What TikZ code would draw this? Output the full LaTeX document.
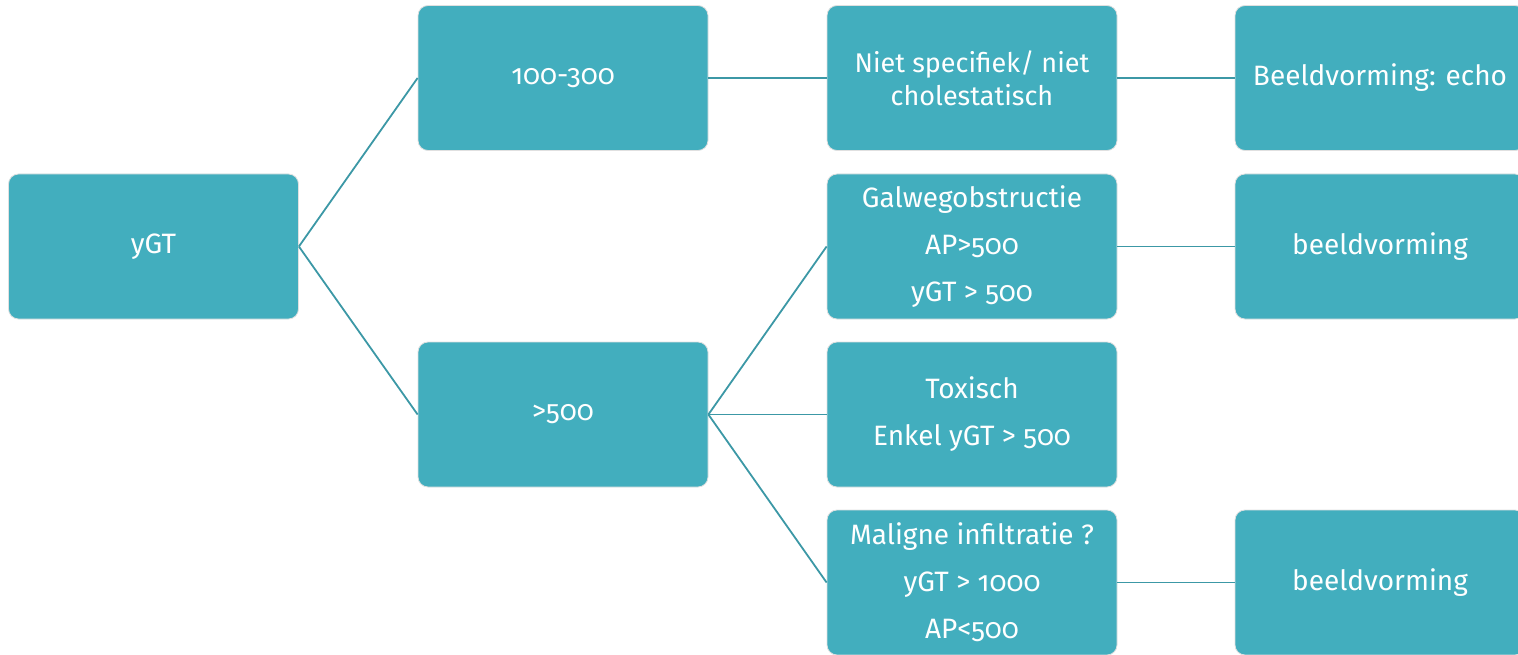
\documentclass[tikz,border=0pt]{standalone}
\usepackage{fontspec}
\setmainfont{Fira Sans}[Numbers=OldStyle]
\definecolor{boxc}{HTML}{42AEBE}
\definecolor{linec}{HTML}{3C98A6}
\begin{document}
\begin{tikzpicture}[x=1pt,y=-1pt,
  box/.style={draw=black!12, line width=0.8pt, fill=boxc, rounded corners=10pt,
    minimum width=290pt, minimum height=145pt, text=white, align=center,
    inner sep=0pt, font=\fontsize{28}{47}\selectfont},
  conn/.style={draw=linec, line width=1.8pt}]
\useasboundingbox (0,0) rectangle (1518,655);
% column 1
\node[box] (ygt) at (153.5,246.5) {yGT};
% column 2
\node[box] (low) at (563,78) {100-300};
\node[box] (high) at (563,414.5) {>500};
% column 3
\node[box, font=\fontsize{27}{33}\selectfont] (niet) at (972,78) {Niet specifiek/ niet\\cholestatisch};
\node[box] (galweg) at (972,246.5) {Galwegobstructie\\AP>500\\yGT > 500};
\node[box] (tox) at (972,414.5) {Toxisch\\Enkel yGT > 500};
\node[box] (malig) at (972,582.5) {Maligne infiltratie ?\\yGT > 1000\\AP<500};
% column 4
\node[box] (echo) at (1380,78) {Beeldvorming: echo};
\node[box] (beeld1) at (1380,246.5) {beeldvorming};
\node[box] (beeld2) at (1380,582.5) {beeldvorming};
% connectors
\draw[conn] (ygt.east) -- (low.west);
\draw[conn] (ygt.east) -- (high.west);
\draw[conn] (low.east) -- (niet.west);
\draw[conn] (high.east) -- (galweg.west);
\draw[conn] (high.east) -- (tox.west);
\draw[conn] (high.east) -- (malig.west);
\draw[conn] (niet.east) -- (echo.west);
\draw[conn] (galweg.east) -- (beeld1.west);
\draw[conn] (malig.east) -- (beeld2.west);
\end{tikzpicture}
\end{document}
